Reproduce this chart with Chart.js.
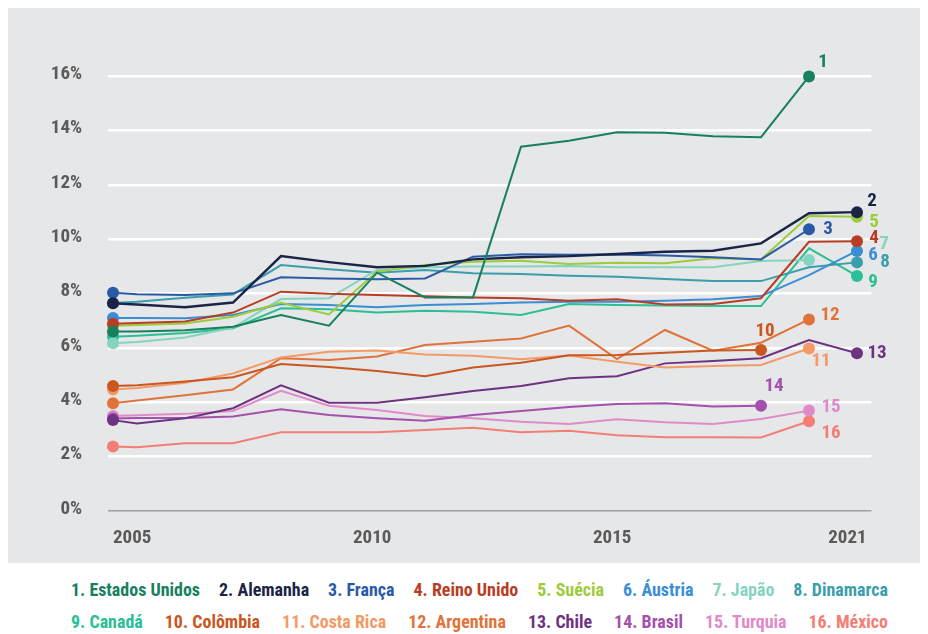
<!DOCTYPE html>
<html>
<head>
<meta charset="utf-8">
<script src="https://cdn.jsdelivr.net/npm/chart.js@4.4.1/dist/chart.umd.min.js"></script>
<style>
  html, body { margin: 0; padding: 0; background: #ffffff; width: 928px; height: 634px; overflow: hidden; }
  #panel { position: absolute; left: 8px; top: 8px; width: 912px; height: 555px; background: #e6e7e8; }
  #chart { display: block; }
  .row { position: absolute; left: 71px; display: flex; justify-content: space-between; transform-origin: 0 0; white-space: nowrap; font-weight: bold; }
</style>
</head>
<body>
<div id="panel"><canvas id="chart" width="912" height="555"></canvas></div>
<div id="row1" class="row"></div>
<div id="row2" class="row"></div>
<script>
// ---------------- data ----------------
const years = [2005, 2006, 2007, 2008, 2009, 2010, 2011, 2012, 2013, 2014, 2015, 2016, 2017, 2018, 2019, 2020, 2021];

const seriesNames = ['Estados Unidos', 'Alemanha', 'França', 'Reino Unido', 'Suécia', 'Áustria', 'Japão', 'Dinamarca',
                     'Canadá', 'Colômbia', 'Costa Rica', 'Argentina', 'Chile', 'Brasil', 'Turquia', 'México'];

const estadosUnidos = [6.6, 6.6, 6.65, 6.78, 7.21, 6.82, 8.77, 7.86, 7.86, 13.41, 13.63, 13.94, 13.92, 13.8, 13.76, 16.0];
const alemanha      = [7.64, 7.6, 7.5, 7.67, 9.38, 9.16, 8.97, 9.02, 9.26, 9.34, 9.38, 9.46, 9.54, 9.58, 9.85, 10.96, 11.0];
const franca        = [8.03, 7.98, 7.95, 8.01, 8.6, 8.56, 8.53, 8.56, 9.36, 9.45, 9.43, 9.44, 9.4, 9.34, 9.26, 10.37];
const reinoUnido    = [6.89, 6.92, 6.97, 7.3, 8.07, 7.99, 7.95, 7.9, 7.86, 7.83, 7.74, 7.79, 7.6, 7.62, 7.83, 9.91, 9.93];
const suecia        = [6.82, 6.84, 6.9, 7.15, 7.66, 7.23, 8.81, 9.05, 9.17, 9.21, 9.09, 9.14, 9.12, 9.3, 9.26, 10.86, 10.83];
const austria       = [7.1, 7.1, 7.09, 7.21, 7.62, 7.58, 7.5, 7.58, 7.62, 7.67, 7.7, 7.7, 7.74, 7.79, 7.91, 8.68, 9.57];
const japao         = [6.17, 6.22, 6.38, 6.75, 7.8, 7.83, 8.87, 8.97, 9.0, 9.0, 9.02, 8.97, 8.97, 8.97, 9.2, 9.24];
const dinamarca     = [7.65, 7.7, 7.85, 7.97, 9.05, 8.9, 8.77, 8.87, 8.75, 8.72, 8.66, 8.62, 8.54, 8.46, 8.46, 8.97, 9.15];
const canada        = [6.41, 6.45, 6.55, 6.72, 7.46, 7.42, 7.3, 7.37, 7.33, 7.21, 7.62, 7.58, 7.56, 7.54, 7.54, 9.67, 8.65];
const colombia      = [4.6, 4.62, 4.76, 4.92, 5.41, 5.3, 5.15, 4.96, 5.28, 5.45, 5.73, 5.74, 5.82, 5.9, 5.92];
const costaRica     = [4.47, 4.52, 4.72, 5.06, 5.65, 5.86, 5.9, 5.76, 5.71, 5.58, 5.72, 5.49, 5.28, 5.33, 5.37, 5.98];
const argentina     = [3.96, 4.06, 4.26, 4.47, 5.62, 5.55, 5.68, 6.11, 6.23, 6.35, 6.82, 5.59, 6.66, 5.9, 6.19, 7.05];
const chile         = [3.34, 3.22, 3.41, 3.78, 4.62, 3.98, 3.98, 4.18, 4.41, 4.6, 4.88, 4.96, 5.43, 5.52, 5.62, 6.29, 5.8];
const brasil        = [3.4, 3.42, 3.42, 3.47, 3.74, 3.53, 3.41, 3.32, 3.53, 3.68, 3.82, 3.93, 3.96, 3.84, 3.87];
const turquia       = [3.49, 3.52, 3.57, 3.68, 4.42, 3.87, 3.71, 3.49, 3.41, 3.28, 3.2, 3.37, 3.26, 3.2, 3.38, 3.69];
const mexico        = [2.37, 2.34, 2.49, 2.49, 2.89, 2.89, 2.89, 2.98, 3.06, 2.89, 2.95, 2.78, 2.71, 2.71, 2.7, 3.3];

const seriesValues = [estadosUnidos, alemanha, franca, reinoUnido, suecia, austria, japao, dinamarca,
                      canada, colombia, costaRica, argentina, chile, brasil, turquia, mexico];

const yTickValues = [0, 2, 4, 6, 8, 10, 12, 14, 16];
const xTickLabels = ['2005', '2010', '2015', '2021'];

// ---------------- style / layout ----------------
const seriesColors = ['#17805f', '#1b2447', '#2a5aa6', '#b83d24', '#9ccb3c', '#3a8ed6', '#86d4c0', '#3a9eac',
                      '#2bbf97', '#c9571f', '#f39a66', '#e0733a', '#6e3282', '#a450ac', '#e08ac8', '#f47d76'];
const xTickAnchors = [2005, 2010.9, 2015.9, 2021.2];   // where the year captions sit along the axis
const endLabelOffsets = [[14,-14],[15,-11],[19,0],[17,-3],[17,5],[16,4],[75,-16],[28,0],[16,6],
                         [4,-19],[12,13],[21,-4],[20,0],[13,-19],[22,-3],[22,12]];
const TICK_COLOR = '#5a5a5a';

function fontAvailable(name) {
  const c = document.createElement('canvas').getContext('2d');
  const t = '1. Estados Unidos 2005 16% Wgimx';
  c.font = 'bold 20px monospace'; const a = c.measureText(t).width;
  c.font = `bold 20px "${name}", monospace`; const b = c.measureText(t).width;
  c.font = 'bold 20px serif'; const d = c.measureText(t).width;
  c.font = `bold 20px "${name}", serif`; const e = c.measureText(t).width;
  return a !== b || d !== e;
}
const condensed = ['Liberation Sans Narrow', 'Arial Narrow', 'Roboto Condensed', 'DejaVu Sans Condensed'].find(fontAvailable);
const FAMILY = condensed ? `"${condensed}", Roboto, sans-serif` : 'Roboto, "Liberation Sans", sans-serif';
const TICK_SIZE = condensed ? 19 : 17;
const LABEL_SIZE = condensed ? 19 : 17;
const LEGEND_SIZE = 18;

// x scale whose first year step is drawn at half width (as in the source chart)
class HalfFirstYearScale extends Chart.LinearScale {
  getPixelForValue(value) {
    const v = value < years[1] ? years[1] - (years[1] - value) / 2 : value;
    return super.getPixelForValue(v);
  }
}
HalfFirstYearScale.id = 'halfFirstYear';
HalfFirstYearScale.defaults = Chart.LinearScale.defaults;
Chart.register(HalfFirstYearScale);

const endLabels = {
  id: 'endLabels',
  afterDatasetsDraw(chart) {
    const ctx = chart.ctx;
    chart.data.datasets.forEach((ds, i) => {
      const meta = chart.getDatasetMeta(i);
      const pt = meta.data[meta.data.length - 1];
      const [dx, dy] = endLabelOffsets[i];
      ctx.save();
      ctx.font = `bold ${LABEL_SIZE}px ${FAMILY}`;
      ctx.fillStyle = seriesColors[i];
      ctx.textAlign = 'center';
      ctx.textBaseline = 'middle';
      ctx.fillText(String(i + 1), pt.x + dx, pt.y + dy);
      ctx.restore();
    });
  }
};

const datasets = seriesValues.map((vals, i) => ({
  label: seriesNames[i],
  data: vals.map((v, j) => ({ x: years[j], y: v })),
  borderColor: seriesColors[i],
  backgroundColor: seriesColors[i],
  borderWidth: i === 1 ? 2.4 : 2,
  pointRadius: c => (c.dataIndex === 0 || c.dataIndex === vals.length - 1) ? 6 : 0,
  pointHoverRadius: 0,
  pointBorderWidth: 0,
  tension: 0,
  clip: false
}));

new Chart(document.getElementById('chart'), {
  type: 'line',
  data: { datasets },
  plugins: [endLabels],
  options: {
    responsive: false,
    animation: false,
    events: [],
    layout: { padding: { top: 68.4, right: 48.6, left: 0, bottom: 0 } },
    plugins: { legend: { display: false }, tooltip: { enabled: false } },
    scales: {
      x: {
        type: 'halfFirstYear',
        min: 2005.4,
        max: 2021.3,
        grid: { display: false },
        border: { display: false },
        afterBuildTicks: s => { s.ticks = xTickAnchors.map(v => ({ value: v })); },
        afterFit: s => { s.height = 52.2; },
        ticks: {
          autoSkip: false, maxRotation: 0, minRotation: 0, align: 'inner', padding: 8,
          color: TICK_COLOR, font: { family: FAMILY, size: TICK_SIZE, weight: 'bold' },
          callback: (v, i) => xTickLabels[i]
        }
      },
      y: {
        min: 0,
        max: 16,
        afterBuildTicks: s => { s.ticks = yTickValues.map(v => ({ value: v })); },
        afterFit: s => { s.width = 100.2; },
        grid: {
          drawTicks: false,
          color: c => (c.tick && c.tick.value === 0) ? '#a0a0a0' : '#ffffff',
          lineWidth: c => (c.tick && c.tick.value === 0) ? 1.5 : 2.5
        },
        border: { display: false },
        ticks: {
          padding: 26, color: TICK_COLOR, labelOffset: -2,
          font: { family: FAMILY, size: TICK_SIZE, weight: 'bold' },
          callback: v => v + '%'
        }
      }
    }
  }
});

// ---------------- legend (two rows, coloured text) ----------------
(function buildLegend() {
  const meas = document.createElement('canvas').getContext('2d');
  meas.font = `bold ${LEGEND_SIZE}px ${FAMILY}`;
  const s = Math.min(1, 129 / meas.measureText('1. Estados Unidos').width);
  const rows = [document.getElementById('row1'), document.getElementById('row2')];
  const tops = [579, 611];
  rows.forEach((row, r) => {
    row.style.width = (817 / s) + 'px';
    row.style.transform = `scaleX(${s})`;
    row.style.top = tops[r] + 'px';
    row.style.fontFamily = FAMILY;
    row.style.fontSize = LEGEND_SIZE + 'px';
    row.style.lineHeight = '22px';
    for (let k = 0; k < 8; k++) {
      const i = r * 8 + k;
      const span = document.createElement('span');
      span.textContent = `${i + 1}. ${seriesNames[i]}`;
      span.style.color = seriesColors[i];
      row.appendChild(span);
    }
  });
})();
</script>
</body>
</html>
